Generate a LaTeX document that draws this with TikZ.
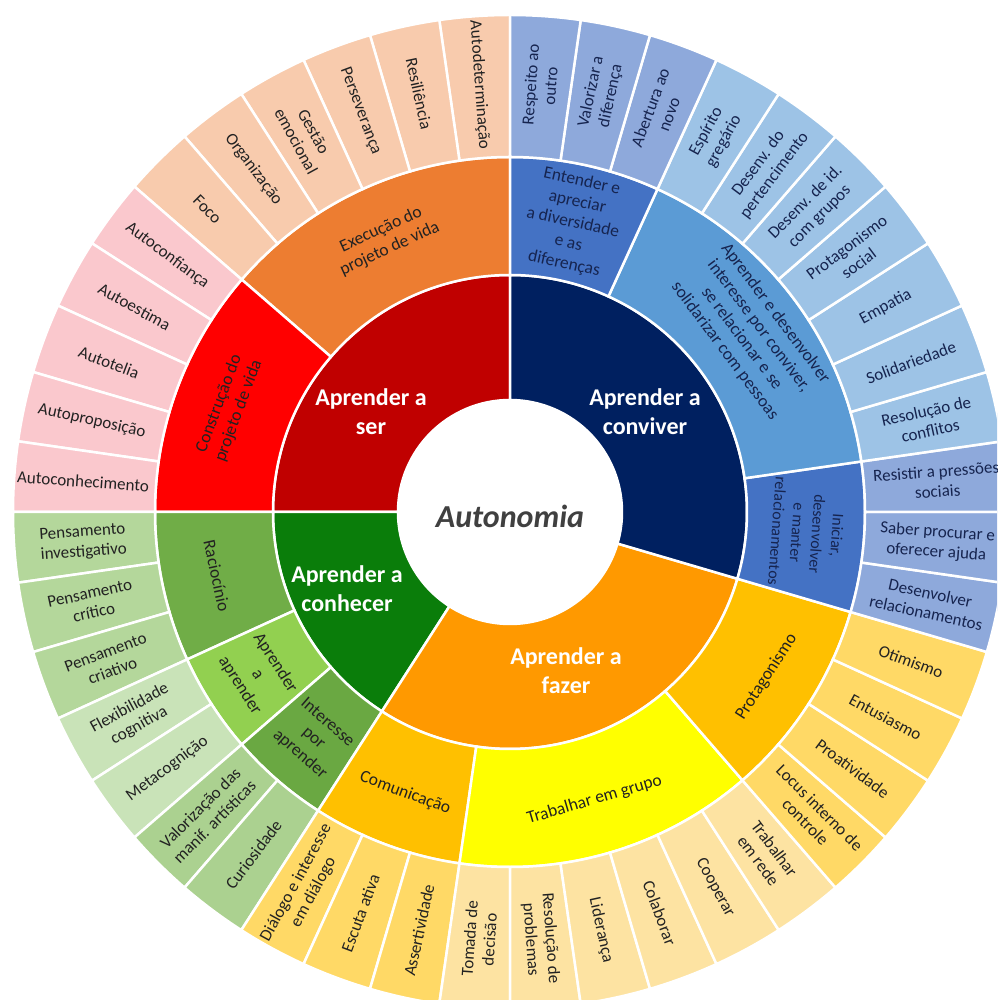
\documentclass[tikz,border=0pt]{standalone}
\usepackage{fontspec}
\setmainfont{Carlito}
\definecolor{cSer}{HTML}{C00000}
\definecolor{cCon}{HTML}{0A7D0A}
\definecolor{cFaz}{HTML}{FF9900}
\definecolor{cViv}{HTML}{002060}
\definecolor{cExe}{HTML}{ED7D31}
\definecolor{cCons}{HTML}{FF0000}
\definecolor{cRac}{HTML}{70AD47}
\definecolor{cAaa}{HTML}{92D050}
\definecolor{cInt}{HTML}{6AA842}
\definecolor{cCom}{HTML}{FFC000}
\definecolor{cTra}{HTML}{FFFF00}
\definecolor{cPro}{HTML}{FFC000}
\definecolor{cIni}{HTML}{4472C4}
\definecolor{cAed}{HTML}{5B9BD5}
\definecolor{cEnt}{HTML}{4472C4}
\definecolor{lExe}{HTML}{F8CBAD}
\definecolor{lCons}{HTML}{FAC8CD}
\definecolor{lRac}{HTML}{B4D79B}
\definecolor{lAaa}{HTML}{C9E3B8}
\definecolor{lInt}{HTML}{ABD190}
\definecolor{lCom}{HTML}{FFD966}
\definecolor{lTra}{HTML}{FDE3A2}
\definecolor{lPro}{HTML}{FFD966}
\definecolor{lIni}{HTML}{8EA9DB}
\definecolor{lAed}{HTML}{9DC3E6}
\definecolor{lEnt}{HTML}{8EA9DB}
\definecolor{txt}{HTML}{222222}
\definecolor{txtb}{HTML}{16244F}
\definecolor{cAuto}{HTML}{404040}
\newcommand\seg[5]{%
  \pgfmathsetmacro\segA{90+(#1)*360/44}%
  \pgfmathsetmacro\segB{90+(#2)*360/44}%
  \filldraw[fill=#5,draw=white,line width=2.5pt] (\segA:#3) arc[start angle=\segA,end angle=\segB,radius=#3] -- (\segB:#4) arc[start angle=\segB,end angle=\segA,radius=#4] -- cycle;}
\begin{document}
\begin{tikzpicture}[x=1pt,y=1pt,
  leaf/.style={font=\fontsize{17}{20}\selectfont,align=center,inner sep=0pt,text=txt},
  mid/.style={font=\fontsize{17.5}{21}\selectfont,align=center,inner sep=0pt,text=txt},
  core/.style={font=\bfseries\fontsize{24}{29}\selectfont,align=center,inner sep=0pt,text=white}]
\useasboundingbox (-510,-488) rectangle (487,512);
\fill[white] (-510,-488) rectangle (487,512);
\clip (-510,-488) rectangle (487,512);
% ring 1
\seg{0}{11}{112}{237}{cSer}
\seg{11}{18}{112}{237}{cCon}
\seg{18}{31}{112}{237}{cFaz}
\seg{31}{44}{112}{237}{cViv}
% ring 2
\seg{0}{6}{237}{355}{cExe}
\seg{6}{11}{237}{355}{cCons}
\seg{11}{14}{237}{355}{cRac}
\seg{14}{16}{237}{355}{cAaa}
\seg{16}{18}{237}{355}{cInt}
\seg{18}{21}{237}{355}{cCom}
\seg{21}{27}{237}{355}{cTra}
\seg{27}{31}{237}{355}{cPro}
\seg{31}{34}{237}{355}{cIni}
\seg{34}{41}{237}{355}{cAed}
\seg{41}{44}{237}{355}{cEnt}
% ring 3
\foreach \k/\c in {0/lExe,1/lExe,2/lExe,3/lExe,4/lExe,5/lExe,
  6/lCons,7/lCons,8/lCons,9/lCons,10/lCons,
  11/lRac,12/lRac,13/lRac,14/lAaa,15/lAaa,16/lInt,17/lInt,
  18/lCom,19/lCom,20/lCom,21/lTra,22/lTra,23/lTra,24/lTra,25/lTra,26/lTra,
  27/lPro,28/lPro,29/lPro,30/lPro,31/lIni,32/lIni,33/lIni,
  34/lAed,35/lAed,36/lAed,37/lAed,38/lAed,39/lAed,40/lAed,
  41/lEnt,42/lEnt,43/lEnt}{\seg{\k}{\k+1}{355}{497}{\c}}
% leaf labels
\foreach \k/\t in {0/Autodeterminação,1/Resiliência,2/Perseverança,3/{Gestão\\emocional},
  4/Organização,5/Foco,6/Autoconfiança,7/Autoestima,8/Autotelia,9/Autoproposição,
  10/Autoconhecimento,11/{Pensamento\\investigativo},12/{Pensamento\\crítico},
  13/{Pensamento\\criativo},14/{Flexibilidade\\cognitiva},15/Metacognição,
  16/{Valorização das\\manif. artísticas},17/Curiosidade,18/{Diálogo e interesse\\em diálogo},
  19/Escuta ativa,20/Assertividade,21/{Tomada de\\decisão},22/{Resolução de\\problemas},
  23/Liderança,24/Colaborar,25/Cooperar,26/{Trabalhar\\em rede},
  27/{Locus interno de\\controle},28/Proatividade,29/Entusiasmo,30/Otimismo}{
  \pgfmathsetmacro\ang{90+(\k+0.5)*360/44}
  \pgfmathsetmacro\rot{\k<22 ? \ang-180 : \ang-360}
  \node[leaf,rotate=\rot] (l\k) at (\ang:428) {\t};
}
\foreach \k/\t in {31/{Desenvolver\\relacionamentos},32/{Saber procurar e\\oferecer ajuda},
  33/{Resistir a pressões\\sociais},34/{Resolução de\\conflitos},35/Solidariedade,36/Empatia,
  37/{Protagonismo\\social},38/{Desenv. de id.\\com grupos},39/{Desenv. do\\pertencimento},
  40/{Espírito\\gregário},41/{Abertura ao\\novo},42/{Valorizar a\\diferença},43/{Respeito ao\\outro}}{
  \pgfmathsetmacro\ang{90+(\k+0.5)*360/44}
  \pgfmathsetmacro\rot{\ang-360}
  \node[leaf,text=txtb,rotate=\rot] (l\k) at (\ang:428) {\t};
}
% ring 2 labels
\node[mid,rotate=24.55] (exe) at (114.55:300) {Execução do\\projeto de vida};
\node[mid,rotate=69.55] (cons) at (159.55:300) {Construção do\\projeto de vida};
\node[mid,rotate=-77.73] (rac) at (192.27:300) {Raciocínio};
\node[mid,rotate=-57.27] (aaa) at (212.73:300) {Aprender\\a\\aprender};
\node[mid,rotate=-40.91] (int) at (229.09:300) {Interesse\\por\\aprender};
\node[mid,rotate=-20.45] (com) at (249.55:300) {Comunicação};
\node[mid,rotate=16.36] (tra) at (286.36:300) {Trabalhar em grupo};
\node[mid,rotate=57.27] (pro) at (327.27:305) {Protagonismo};
\node[mid,text=txtb,font=\fontsize{16}{20}\selectfont,rotate=-94.09] (ini) at (355.91:298) {Iniciar,\\desenvolver\\e manter\\relacionamentos};
\node[mid,text=txtb,rotate=-53.18] (aed) at (36.82:300) {Aprender e desenvolver\\interesse por conviver,\\se relacionar e se\\solidarizar com pessoas};
\node[mid,text=txtb,rotate=-12.27] (ent) at (77.73:296) {Entender e\\apreciar\\a diversidade\\e as\\diferenças};
% ring 1 labels
\node[core] (ser) at (-139,100) {Aprender a\\ser};
\node[core] (viv) at (135,100) {Aprender a\\conviver};
\node[core] (con) at (-163,-77) {Aprender a\\conhecer};
\node[core] (faz) at (56,-159) {Aprender a\\fazer};
\node[font=\bfseries\itshape\fontsize{32}{36}\selectfont,text=cAuto] (auto) at (0,-4) {Autonomia};
\end{tikzpicture}
\end{document}
